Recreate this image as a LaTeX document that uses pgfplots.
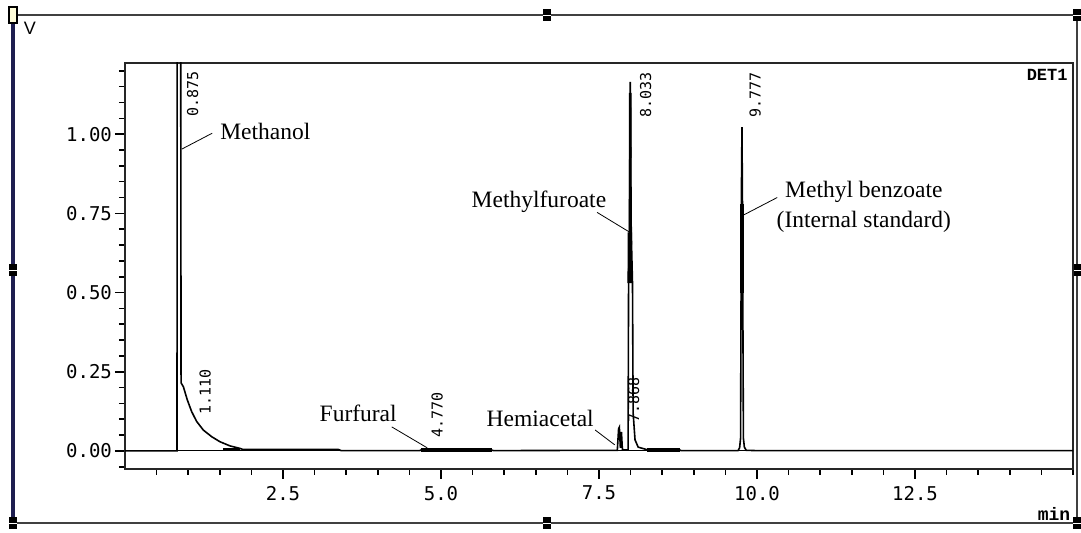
\documentclass[border=0pt]{standalone}
\usepackage{fontspec}
\usepackage{pgfplots}
\pgfplotsset{compat=1.18}
\setmainfont{Liberation Serif}
\newfontfamily\tickfont{DejaVu Sans Mono}
\newfontfamily\monobold{Liberation Mono}
\newfontfamily\vfont{Liberation Sans}
\definecolor{framenavy}{RGB}{30,30,80}
\begin{document}
\begin{tikzpicture}
\useasboundingbox (-62.5pt,-32pt) rectangle (478pt,234.5pt);
% window frame
\draw[line width=1pt, black!75] (-56pt,227pt) -- (476pt,227pt);
\draw[line width=1pt, black!75] (-56pt,-27pt) -- (476pt,-27pt);
\draw[line width=0.8pt, black!75] (476pt,227pt) -- (476pt,-27pt);
\draw[line width=1.6pt, framenavy] (-56pt,227pt) -- (-56pt,-27pt);
\foreach \hx/\hy in {476/227, -56/-27, 476/-27, 211/227, 211/-27, -56/99.5, 476/99.5}{
  \fill[black] (\hx pt-2pt,\hy pt-3pt) rectangle (\hx pt+2pt,\hy pt+3pt);
  \draw[white, line width=0.4pt] (\hx pt-2pt,\hy pt) -- (\hx pt+2pt,\hy pt);
}
\filldraw[fill=yellow!15, draw=black, line width=0.8pt] (-58pt,223pt) rectangle (-54pt,231pt);
\node[font=\vfont\fontsize{9}{10}\selectfont, inner sep=0pt] at (-47.5pt,220.5pt) {V};
\node[font=\monobold\bfseries\fontsize{9}{10}\selectfont, inner sep=0pt] at (464.5pt,-22.5pt) {min};
\begin{axis}[
  at={(0pt,0pt)}, anchor=south west,
  scale only axis, width=474pt, height=203pt,
  xmin=0, xmax=15, ymin=-0.057, ymax=1.2247,
  axis line style={line width=1pt, black!85},
  tick align=outside, xtick pos=bottom, ytick pos=left,
  xtick={2.5,5,7.5,10,12.5},
  minor xtick={0.5,1,1.5,2,2.5,3,3.5,4,4.5,5,5.5,6,6.5,7,7.5,8,8.5,9,9.5,10,10.5,11,11.5,12,12.5,13,13.5,14,14.5,15},
  ytick={0,0.25,0.5,0.75,1},
  minor ytick={-0.05,0.05,0.1,0.15,0.2,0.3,0.35,0.4,0.45,0.55,0.6,0.65,0.7,0.8,0.85,0.9,0.95,1.05,1.1,1.15,1.2},
  major tick length=5pt, minor tick length=3pt,
  every tick/.style={black, line width=0.8pt},
  /pgf/number format/assume math mode=true,
  tick label style={font=\tickfont\fontsize{9.5}{11}\selectfont},
  xticklabel style={/pgf/number format/.cd, fixed, fixed zerofill, precision=1},
  yticklabel style={xshift=2pt, /pgf/number format/.cd, fixed, fixed zerofill, precision=2},
  clip=true,
]
% zero line
\addplot[black, line width=0.5pt] coordinates {(0,0) (15,0)};
% chromatogram trace
\addplot[black, line width=0.8pt] coordinates {
(0,0) (0.80,0) (0.823,0) (0.826,1.6) (0.880,1.6) (0.887,0.215)
(0.923,0.203) (0.986,0.161) (1.055,0.124) (1.134,0.093) (1.239,0.066)
(1.371,0.045) (1.503,0.029) (1.66,0.016) (1.82,0.008) (1.86,0.005)
(3.37,0.005) (3.42,0.001) (4.66,0.001) (4.70,0.004) (4.77,0.005)
(5.0,0.004) (5.5,0.003) (5.80,0.003) (5.83,0.001)
(7.79,0.002) (7.81,0.07) (7.822,0.075) (7.838,0.01) (7.855,0.06) (7.87,0.005)
(7.90,0.003) (7.96,0.003) (7.968,0.53) (7.980,0.69) (7.995,1.165)
(8.01,0.69) (8.03,0.53) (8.04,0.12) (8.07,0.035) (8.12,0.012) (8.26,0.004)
(8.78,0.003) (8.80,0.001) (9.70,0.001) (9.725,0.01) (9.74,0.04) (9.748,0.5)
(9.752,0.78) (9.762,1.022) (9.77,0.78) (9.775,0.5) (9.785,0.04) (9.80,0.012)
(9.83,0.002) (10.0,0.001) (15,0.001)
};
% thicker (overlapping) stretches of the trace
\addplot[black, line width=1.6pt] coordinates {(1.55,0.004) (1.82,0.004)};
\addplot[black, line width=1.6pt] coordinates {(4.68,0.003) (5.81,0.003)};
\addplot[black, line width=1.6pt] coordinates {(8.26,0.003) (8.78,0.003)};
\addplot[black, line width=1.3pt] coordinates {(7.992,0.69) (7.995,1.13)};
\addplot[black, line width=2.2pt] coordinates {(7.985,0.53) (7.988,0.69)};
\addplot[black, line width=2pt] coordinates {(9.762,0.50) (9.762,0.78)};
% peak labels
\node[rotate=90, font=\tickfont\fontsize{7.5}{8}\selectfont, inner sep=0pt] at (axis cs:1.07,1.127) {0.875};
\node[rotate=90, font=\tickfont\fontsize{7.5}{8}\selectfont, inner sep=0pt] at (axis cs:1.27,0.187) {1.110};
\node[rotate=90, font=\tickfont\fontsize{7.5}{8}\selectfont, inner sep=0pt] at (axis cs:4.94,0.114) {4.770};
\node[rotate=90, font=\tickfont\fontsize{7.5}{8}\selectfont, inner sep=0pt] at (axis cs:8.05,0.16) {7.868};
\node[rotate=90, font=\tickfont\fontsize{7.5}{8}\selectfont, inner sep=0pt] at (axis cs:8.24,1.123) {8.033};
\node[rotate=90, font=\tickfont\fontsize{7.5}{8}\selectfont, inner sep=0pt] at (axis cs:9.97,1.123) {9.777};
% compound annotations
\tikzset{ann/.style={font=\fontsize{11.75}{15}\selectfont, inner sep=0pt, align=center}}
\node[ann] at (axis cs:2.22,1.009) {Methanol};
\draw[black, line width=0.4pt] (axis cs:0.90,0.953) -- (axis cs:1.38,1.003);
\node[ann] at (axis cs:3.69,0.12) {Furfural};
\draw[black, line width=0.4pt] (axis cs:4.22,0.076) -- (axis cs:4.78,0.01);
\node[ann] at (axis cs:6.57,0.101) {Hemiacetal};
\draw[black, line width=0.4pt] (axis cs:7.44,0.066) -- (axis cs:7.75,0.019);
\node[ann] at (axis cs:6.55,0.788) {Methylfuroate};
\draw[black, line width=0.4pt] (axis cs:7.47,0.753) -- (axis cs:7.99,0.69);
\node[ann] at (axis cs:11.69,0.769) {Methyl benzoate\\(Internal standard)};
\draw[black, line width=0.4pt] (axis cs:10.32,0.80) -- (axis cs:9.78,0.744);
\node[font=\monobold\bfseries\fontsize{8.5}{9}\selectfont, inner sep=0pt, anchor=east] at (rel axis cs:0.9947,0.970) {DET1};
\end{axis}
\end{tikzpicture}
\end{document}
